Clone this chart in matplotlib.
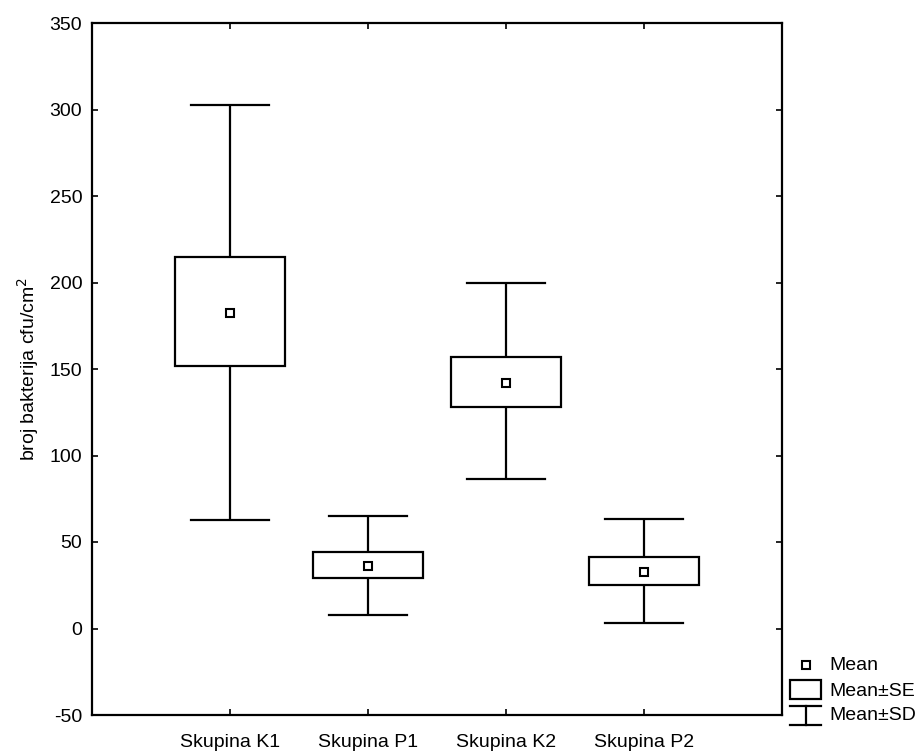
import matplotlib
matplotlib.use('Agg')
import matplotlib.pyplot as plt
from matplotlib.patches import Rectangle

groups = ['Skupina K1', 'Skupina P1', 'Skupina K2', 'Skupina P2']
mean = [182.2, 36.0, 142.1, 32.8]
se_low = [151.7, 29.2, 128.2, 25.1]
se_high = [214.6, 44.0, 157.1, 41.2]
sd_low = [62.7, 7.8, 86.2, 3.0]
sd_high = [302.6, 65.2, 199.9, 63.1]

plt.rcParams['font.family'] = ['Liberation Sans', 'DejaVu Sans']
plt.rcParams['axes.unicode_minus'] = False
LW = 1.6
BOX_W = 0.8
CAP_W = 0.56
FS = 14

fig = plt.figure(figsize=(9.23, 7.53), dpi=100)
ax = fig.add_axes([92 / 923, 1 - 715 / 753, 690 / 923, 692 / 753])

for i, g in enumerate(groups):
    x = i + 1
    # whiskers (mean +- SD)
    ax.plot([x, x], [se_high[i], sd_high[i]], color='k', lw=LW, solid_capstyle='butt')
    ax.plot([x, x], [sd_low[i], se_low[i]], color='k', lw=LW, solid_capstyle='butt')
    ax.plot([x - CAP_W / 2, x + CAP_W / 2], [sd_high[i], sd_high[i]], color='k', lw=LW)
    ax.plot([x - CAP_W / 2, x + CAP_W / 2], [sd_low[i], sd_low[i]], color='k', lw=LW)
    # box (mean +- SE)
    ax.add_patch(Rectangle((x - BOX_W / 2, se_low[i]), BOX_W, se_high[i] - se_low[i],
                           facecolor='white', edgecolor='k', lw=LW, zorder=3))
    ax.plot(x, mean[i], marker='s', ms=6, mfc='white', mec='k', mew=1.5, zorder=4)

ax.set_xlim(0, 5)
ax.set_ylim(-50, 350)
ax.set_xticks(range(1, len(groups) + 1))
ax.set_xticklabels(groups)
ax.set_yticks(range(-50, 351, 50))
ax.tick_params(direction='in', length=4, width=1.2, labelsize=FS,
               top=True, right=True, pad=7)
ax.tick_params(axis='x', pad=14)
for s in ax.spines.values():
    s.set_linewidth(1.6)
ax.set_ylabel('broj bakterija cfu/cm$^2$', fontsize=FS, labelpad=6)

# legend drawn by hand, outside the axes at lower right
lax = fig.add_axes([785 / 923, 1 - 730 / 753, 138 / 923, 80 / 753])
lax.set_xlim(0, 138)
lax.set_ylim(80, 0)
lax.axis('off')
lax.plot(21, 15, marker='s', ms=6, mfc='white', mec='k', mew=1.5)
lax.add_patch(Rectangle((5, 30), 31, 19, facecolor='white', edgecolor='k', lw=LW))
lax.plot([5, 36], [56, 56], color='k', lw=LW)
lax.plot([5, 36], [75, 75], color='k', lw=LW)
lax.plot([21, 21], [56, 75], color='k', lw=LW)
for ty, txt in zip([15, 41, 65], ['Mean', 'Mean±SE', 'Mean±SD']):
    lax.text(44, ty, txt, fontsize=FS, va='center', ha='left')

fig.savefig('out.png', dpi=100)
